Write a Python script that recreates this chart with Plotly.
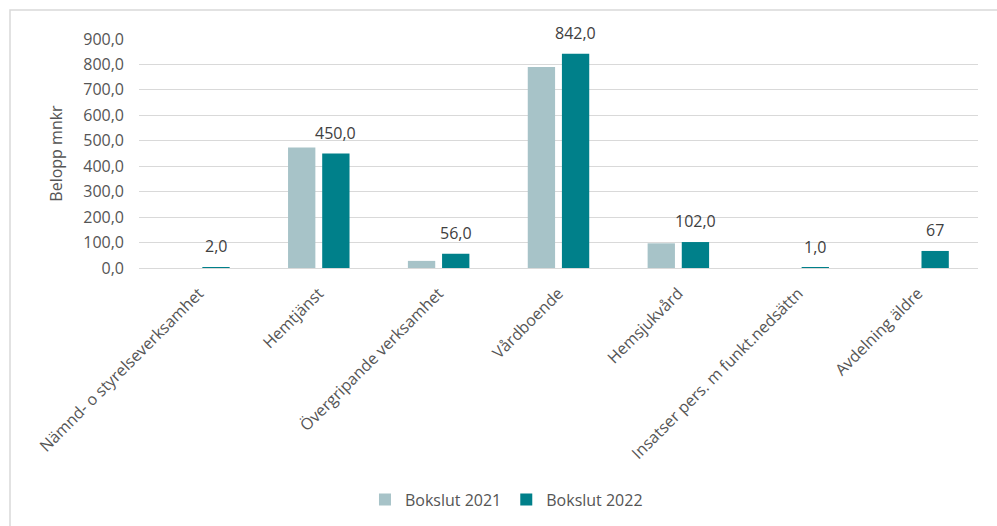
import plotly.graph_objects as go

categories = ["Nämnd- o styrelseverksamhet", "Hemtjänst", "Övergripande verksamhet",
              "Vårdboende", "Hemsjukvård", "Insatser pers. m funkt.nedsättn", "Avdelning äldre"]
bokslut_2021 = [0, 474, 28, 790, 97, 0, 0]
bokslut_2022 = [2, 450, 56, 842, 102, 1, 67]
labels_2022 = ["2,0", "450,0", "56,0", "842,0", "102,0", "1,0", "67"]
y_ticks = [0, 100, 200, 300, 400, 500, 600, 700, 800, 900]

FONT = "Open Sans"
FS = 16
W, H = 997, 526
L, R, T, B = 139, 19, 39, 258

fig = go.Figure()
fig.add_trace(go.Bar(name="Bokslut 2021", x=categories, y=bokslut_2021,
                     marker=dict(color="#A7C3C8", line=dict(width=0))))
fig.add_trace(go.Bar(name="Bokslut 2022", x=categories, y=bokslut_2022,
                     marker=dict(color="#00808A", line=dict(width=0))))

for c, v, t in zip(categories, bokslut_2022, labels_2022):
    fig.add_annotation(x=c, y=v, text=t, showarrow=False, xshift=17, yshift=21,
                       yanchor="middle", font=dict(family=FONT, size=FS, color="#404040"))

pw = W - L - R
ph = H - T - B
fig.add_shape(type="rect", xref="paper", yref="paper",
              x0=(10 - L) / pw, x1=(W + 20 - L) / pw,
              y0=(H - B - (H + 20)) / ph, y1=(H - B - 10) / ph,
              line=dict(color="#D9D9D9", width=1.5), fillcolor="rgba(0,0,0,0)", layer="below")

fig.update_layout(
    width=W, height=H,
    margin=dict(l=L, r=R, t=T, b=B, autoexpand=False),
    paper_bgcolor="white", plot_bgcolor="white",
    barmode="group", bargap=0.43, bargroupgap=0.2,
    separators=", ",
    font=dict(family=FONT, size=FS, color="#555555"),
    legend=dict(orientation="h", xref="container", yref="container",
                x=0.508, xanchor="center", y=0.05, yanchor="middle",
                font=dict(size=FS, color="#555555"), itemwidth=30,
                traceorder="normal"),
    showlegend=True,
)
fig.update_yaxes(range=[0, 900], tickvals=y_ticks, tickformat=".1f",
                 showgrid=True, gridcolor="#D9D9D9", gridwidth=1,
                 zeroline=True, zerolinecolor="#D9D9D9", zerolinewidth=1,
                 showline=False, ticks="", ticklabelstandoff=14,
                 title=dict(text="Belopp mnkr", standoff=16, font=dict(size=FS, color="#555555")))
fig.update_xaxes(tickangle=-45, showline=False, ticks="", ticklabelstandoff=12,
                 showgrid=False)

fig.write_html("out.html")
